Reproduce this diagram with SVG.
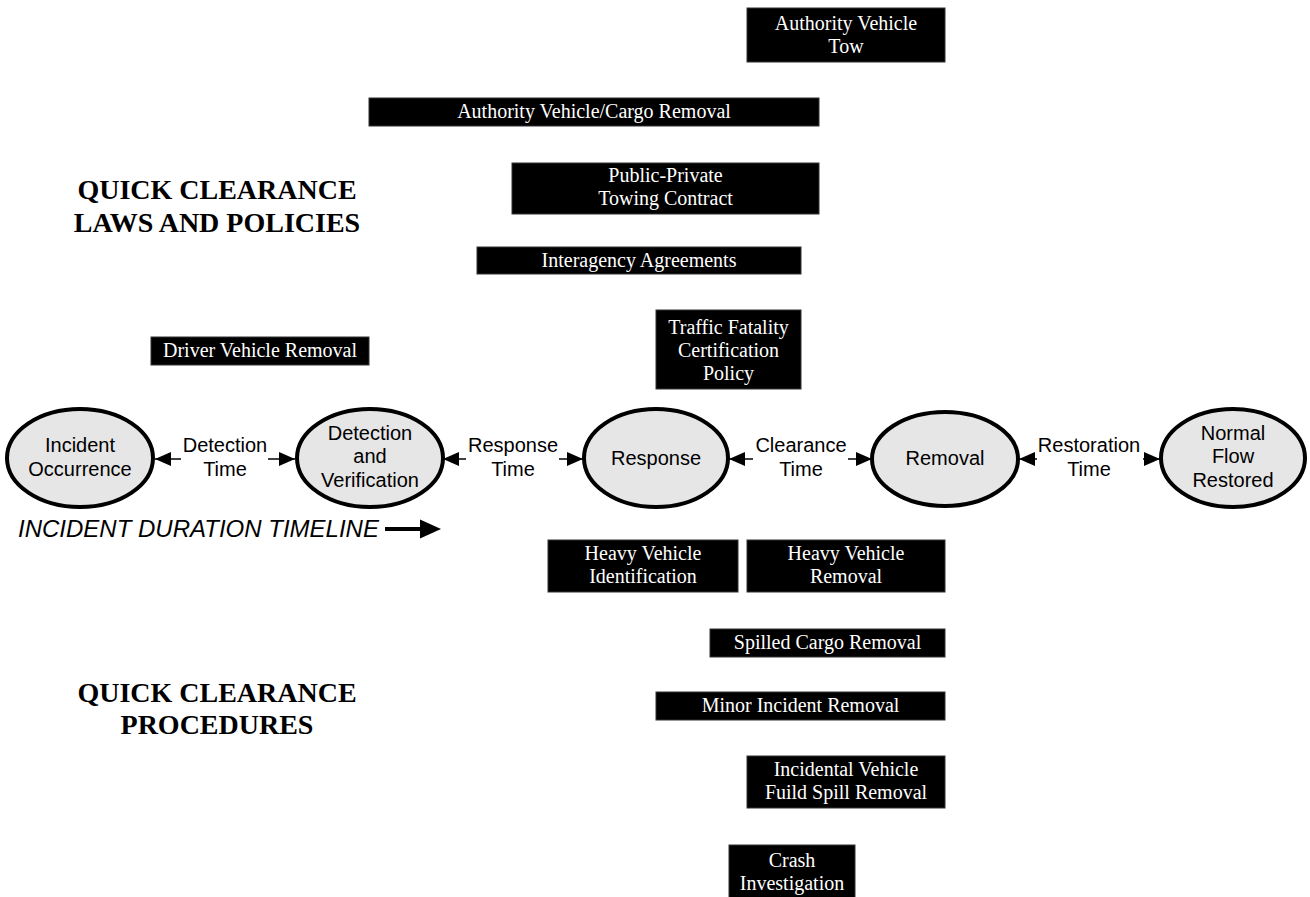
<svg xmlns="http://www.w3.org/2000/svg" width="1310" height="897" viewBox="0 0 1310 897">
<style>
.bx rect{fill:#000;stroke:#333;stroke-width:1}
.bx text{font-family:"Liberation Serif","Times New Roman",serif;font-size:20px;fill:#fff;text-anchor:middle}
.el ellipse{fill:#e6e6e6;stroke:#000;stroke-width:4}
.el text,.lbl{font-family:"Liberation Sans",Arial,sans-serif;font-size:20px;fill:#000;text-anchor:middle}
.hd{font-family:"Liberation Serif","Times New Roman",serif;font-size:28px;font-weight:bold;fill:#000;text-anchor:middle}
.cn line{stroke:#000;stroke-width:1.5;marker-end:url(#ah)}
</style>
<defs>
<marker id="ah" viewBox="0 0 16 14" refX="16" refY="7" markerWidth="16" markerHeight="14" markerUnits="userSpaceOnUse" orient="auto">
<path d="M0,0 L16,7 L0,14 z" fill="#000"/>
</marker>
</defs>
<rect width="1310" height="897" fill="#fff"/>

<g id="heading-laws"><text class="hd" x="217" y="199">QUICK CLEARANCE</text><text class="hd" x="217" y="232">LAWS AND POLICIES</text></g>
<g id="heading-procedures"><text class="hd" x="217" y="702">QUICK CLEARANCE</text><text class="hd" x="217" y="734">PROCEDURES</text></g>

<g id="box-tow" class="bx"><rect x="747" y="8" width="198" height="54"/><text x="846" y="30">Authority Vehicle</text><text x="846" y="53">Tow</text></g>
<g id="box-cargo" class="bx"><rect x="369" y="98" width="450" height="28"/><text x="594" y="118">Authority Vehicle/Cargo Removal</text></g>
<g id="box-ppt" class="bx"><rect x="512" y="163" width="307" height="51"/><text x="665.5" y="182">Public-Private</text><text x="665.5" y="205">Towing Contract</text></g>
<g id="box-inter" class="bx"><rect x="477" y="247" width="324" height="27"/><text x="639" y="267">Interagency Agreements</text></g>
<g id="box-fatal" class="bx"><rect x="656" y="310" width="145" height="79"/><text x="728.5" y="334">Traffic Fatality</text><text x="728.5" y="357">Certification</text><text x="728.5" y="380">Policy</text></g>
<g id="box-driver" class="bx"><rect x="151" y="337" width="218" height="28"/><text x="260" y="357">Driver Vehicle Removal</text></g>

<g id="box-hvi" class="bx"><rect x="548" y="540" width="190" height="52"/><text x="643" y="560">Heavy Vehicle</text><text x="643" y="583">Identification</text></g>
<g id="box-hvr" class="bx"><rect x="747" y="540" width="198" height="52"/><text x="846" y="560">Heavy Vehicle</text><text x="846" y="583">Removal</text></g>
<g id="box-spill" class="bx"><rect x="710" y="629" width="235" height="28"/><text x="827.5" y="649">Spilled Cargo Removal</text></g>
<g id="box-minor" class="bx"><rect x="656" y="692" width="289" height="28"/><text x="800.5" y="712">Minor Incident Removal</text></g>
<g id="box-fluid" class="bx"><rect x="747" y="756" width="198" height="52"/><text x="846" y="776">Incidental Vehicle</text><text x="846" y="799">Fuild Spill Removal</text></g>
<g id="box-crash" class="bx"><rect x="729" y="845" width="126" height="53"/><text x="792" y="867">Crash</text><text x="792" y="890">Investigation</text></g>

<g id="node-incident" class="el"><ellipse cx="80" cy="458" rx="73" ry="49"/><text x="80" y="452">Incident</text><text x="80" y="476">Occurrence</text></g>
<g id="node-detection" class="el"><ellipse cx="370" cy="458" rx="73" ry="49"/><text x="370" y="440">Detection</text><text x="370" y="463">and</text><text x="370" y="487">Verification</text></g>
<g id="node-response" class="el"><ellipse cx="656" cy="458" rx="72" ry="49"/><text x="656" y="465">Response</text></g>
<g id="node-removal" class="el"><ellipse cx="945" cy="459" rx="73" ry="47"/><text x="945" y="465">Removal</text></g>
<g id="node-normal" class="el"><ellipse cx="1233" cy="458" rx="72" ry="49"/><text x="1233" y="440">Normal</text><text x="1233" y="463">Flow</text><text x="1233" y="487">Restored</text></g>

<g id="connectors" class="cn">
<line x1="181" y1="459" x2="155" y2="459"/><line x1="268" y1="459" x2="295" y2="459"/>
<line x1="466" y1="459" x2="443" y2="459"/><line x1="559" y1="459" x2="583" y2="459"/>
<line x1="753" y1="459" x2="729" y2="459"/><line x1="848" y1="459" x2="872" y2="459"/>
<line x1="1037" y1="459" x2="1019" y2="459"/><line x1="1143" y1="459" x2="1160" y2="459"/>
</g>
<g id="edge-labels">
<text class="lbl" x="225" y="452">Detection</text><text class="lbl" x="225" y="476">Time</text>
<text class="lbl" x="513" y="452">Response</text><text class="lbl" x="513" y="476">Time</text>
<text class="lbl" x="801" y="452">Clearance</text><text class="lbl" x="801" y="476">Time</text>
<text class="lbl" x="1089" y="452">Restoration</text><text class="lbl" x="1089" y="476">Time</text>
</g>

<g id="timeline">
<text x="18" y="537" font-family="'Liberation Sans',Arial,sans-serif" font-size="24" font-style="italic" fill="#000">INCIDENT DURATION TIMELINE</text>
<line x1="385" y1="529" x2="422" y2="529" stroke="#000" stroke-width="4"/>
<polygon points="420,519.5 441,529 420,538.5" fill="#000"/>
</g>
</svg>
